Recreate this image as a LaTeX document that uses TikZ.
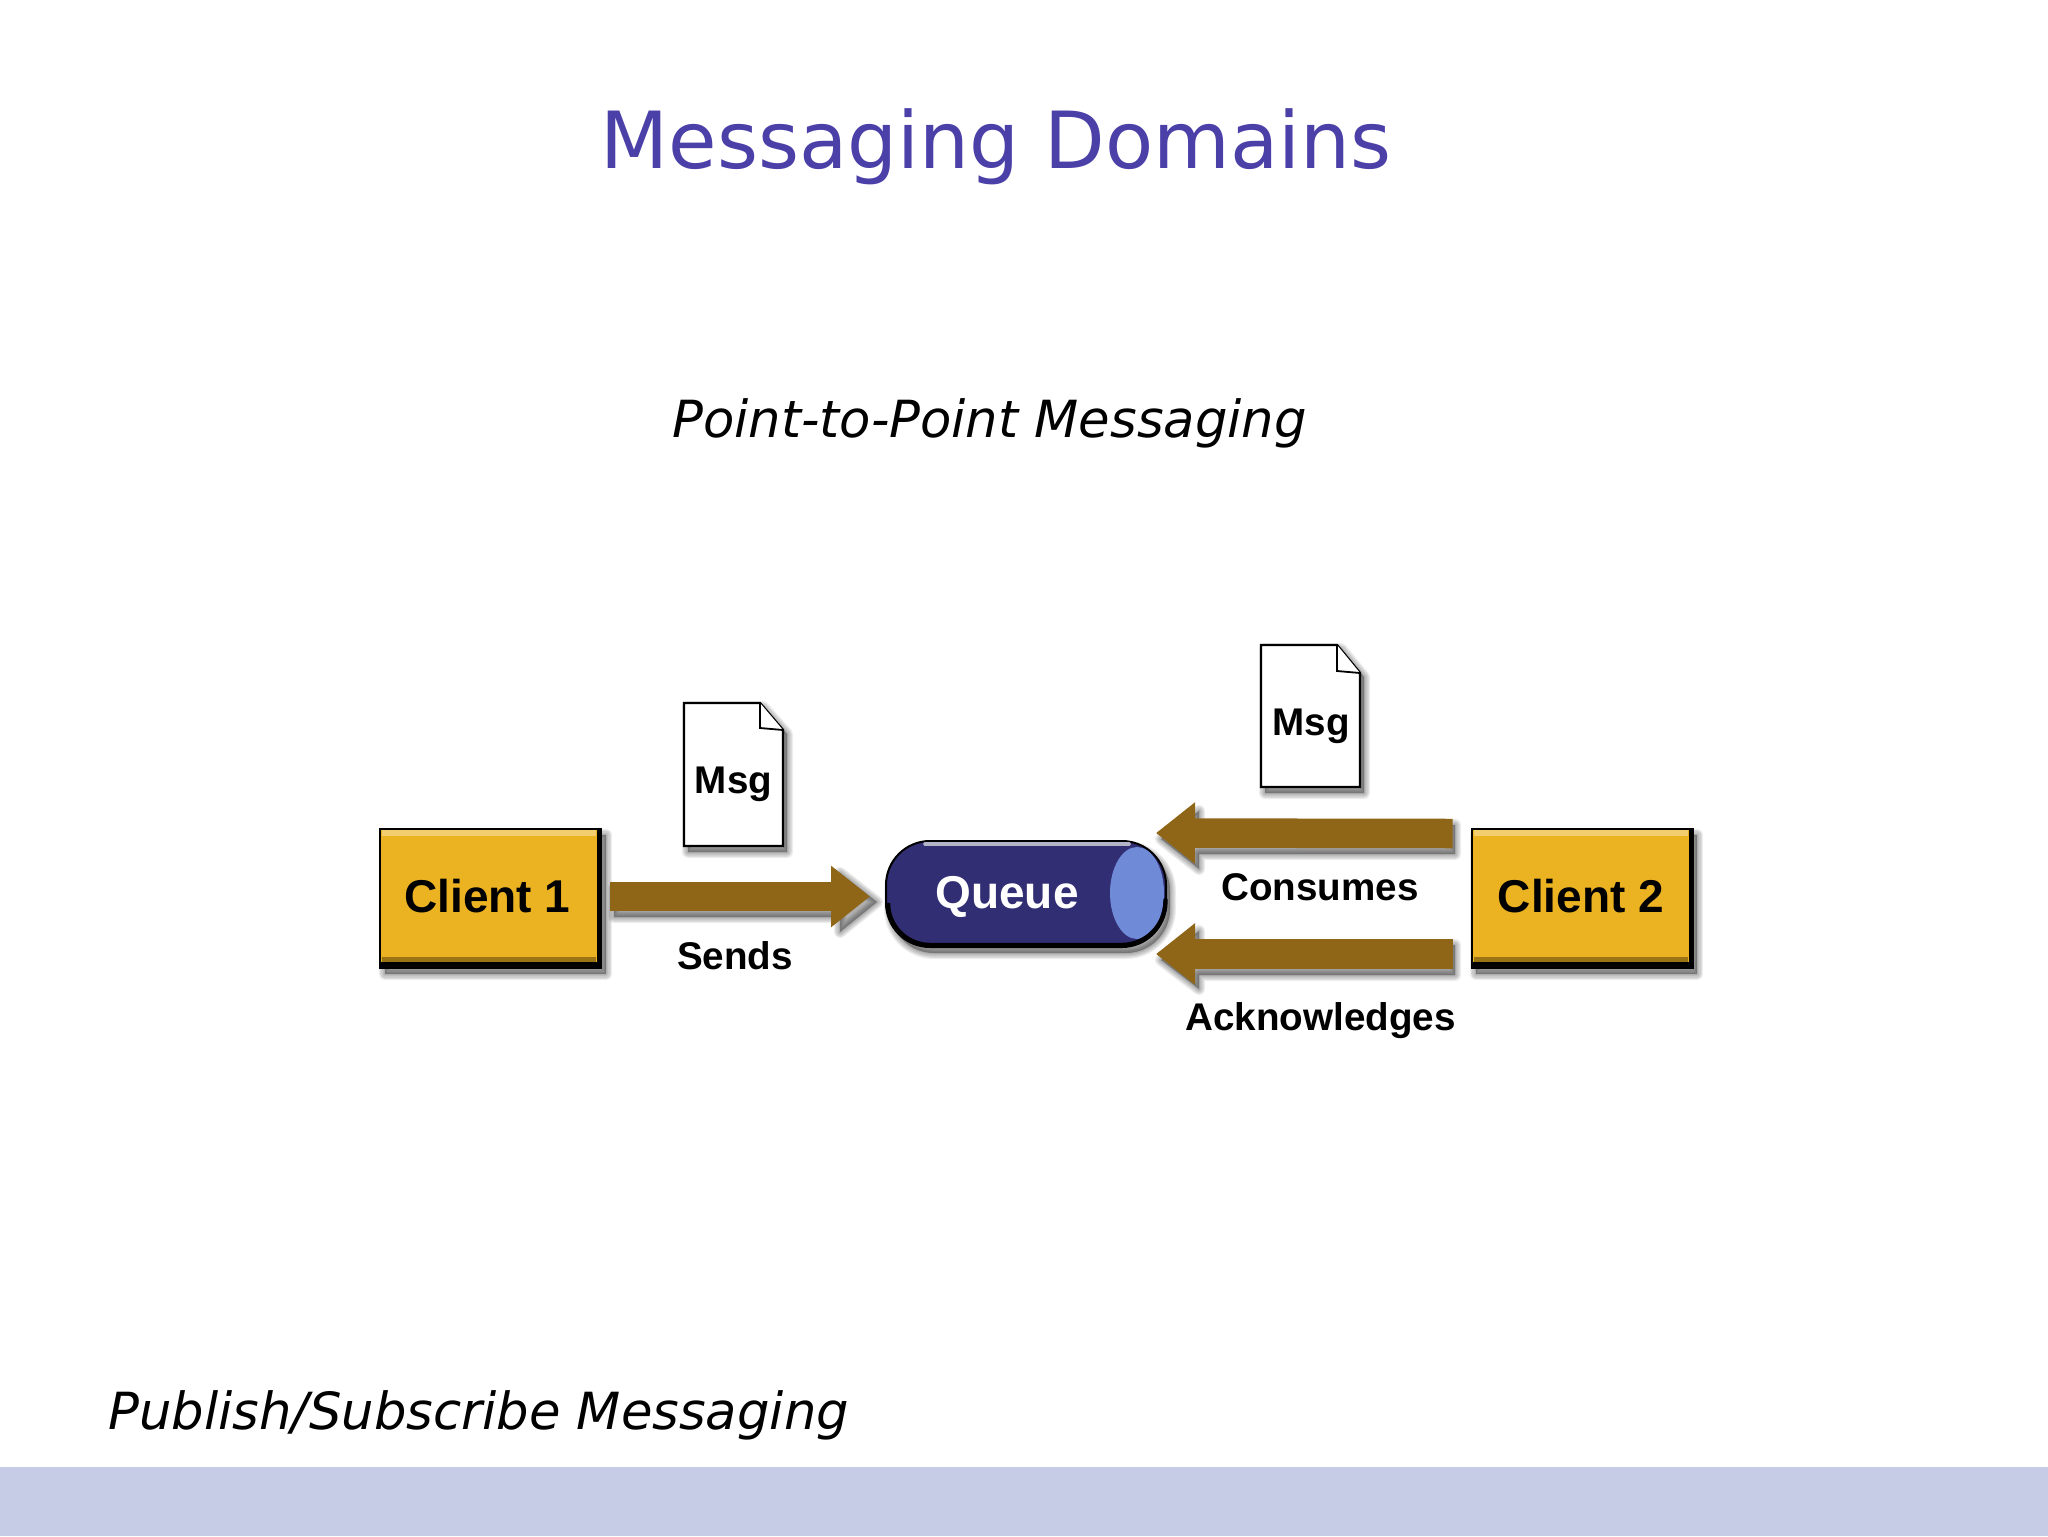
\documentclass[tikz,border=0pt]{standalone}
\usepackage{fontspec}
\usetikzlibrary{arrows.meta,calc}
\setmainfont{DejaVu Sans}
\newfontfamily\diafont{Liberation Sans}[Scale=1]
\definecolor{titleblue}{HTML}{4B3FA8}
\definecolor{bandblue}{HTML}{C7CCE6}
\definecolor{amber}{HTML}{EBB222}
\definecolor{amberlight}{HTML}{F3CE6E}
\definecolor{amberdark}{HTML}{9A7414}
\definecolor{flowbrown}{HTML}{8F6517}
\definecolor{queuebody}{HTML}{322E74}
\definecolor{queuecap}{HTML}{6F8BD8}
\definecolor{queuerim}{HTML}{B4B4C8}
\newcommand\softshadow[1]{\foreach \w in {6,4.8,3.6,2.4,1.2}{\draw[black,fill=black,draw opacity=.07,fill opacity=.07,line width=\w pt,line join=round] #1;}}
\tikzset{
  x=0.5pt,y=-0.5pt,
  titletext/.style={font=\fontsize{39.4}{39.4}\selectfont,text=titleblue,inner sep=0pt,anchor=base},
  subtext/.style={font=\fontsize{25.6}{25.6}\selectfont\itshape,text=black,inner sep=0pt},
  clientbox/.style={draw=black,line width=1pt,fill=amber,minimum width=110.5pt,minimum height=69.5pt,inner sep=0pt,text depth=2.5pt,font=\diafont\bfseries\fontsize{23}{23}\selectfont},
  queuebox/.style={draw=black,line width=1pt,fill=queuebody,rounded corners=22pt,minimum width=140pt,minimum height=53pt,inner sep=0pt,text=white,text height=20pt,text depth=6pt,font=\diafont\bfseries\fontsize{23}{23}\selectfont},
  labeltext/.style={inner sep=0pt,anchor=base,font=\diafont\bfseries\fontsize{19.3}{19.3}\selectfont},
  docshape/.style={draw=black,line width=1.2pt,fill=white,line join=miter},
  flow/.style={draw=flowbrown,line width=14.75pt,-{Triangle[length=19.5pt,width=29.5pt]}},
}
\begin{document}
\begin{tikzpicture}
\useasboundingbox (0,0) rectangle (2048,1536);
\fill[white] (0,0) rectangle (2048,1536);
\fill[bandblue] (0,1467) rectangle (2048,1536);

\node[titletext] (title) at (996,168) {Messaging Domains};
\node[subtext,anchor=base] (ptp) at (989.5,437) {Point-to-Point Messaging};
\node[subtext,anchor=base west] (pubsub) at (108,1429) {Publish/Subscribe Messaging};

% soft shadows
\softshadow{(385,835) rectangle (606,974)}
\softshadow{(1476,835) rectangle (1697,974)}
\softshadow{(890,847) [rounded corners=22pt] rectangle (1170,953)}
\softshadow{(688,707) -- (763,707) -- (787,734) -- (787,852) -- (688,852) -- cycle}
\softshadow{(1265,649) -- (1341,649) -- (1364,677) -- (1364,793) -- (1265,793) -- cycle}
\softshadow{(614,917) -- (840,917) -- (840,932) -- (877,902) -- (840,873) -- (840,888) -- (614,888) -- cycle}
\softshadow{(1455,825) -- (1199,825) -- (1199,811) -- (1161,839) -- (1199,869) -- (1199,854) -- (1455,854) -- cycle}
\softshadow{(1455,945) -- (1199,945) -- (1199,931) -- (1161,960) -- (1199,989) -- (1199,975) -- (1455,975) -- cycle}

% clients
\node[clientbox] (client1) at (490.5,898.5) {Client 1\kern3pt\null};
\node[clientbox] (client2) at (1582,898.5) {Client 2\kern1pt\null};
\foreach \c in {client1,client2}{
  \fill[amberlight] ($(\c.north west)+(3,2)$) rectangle ($(\c.north east)+(-6,8)$);
  \fill[amberdark] ($(\c.south west)+(3,-12)$) rectangle ($(\c.south east)+(-6,-7)$);
  \fill[black] ($(\c.south west)+(0,-7)$) rectangle ($(\c.south east)+(0,0)$);
  \fill[black] ($(\c.north east)+(-5,0)$) rectangle ($(\c.south east)+(0,0)$);
}

% queue
\node[queuebox] (queue) at (1026,894) {Queue\kern19pt\null};
\fill[queuecap] (1137,893) ellipse [x radius=27,y radius=46];
\draw[queuerim,line width=1.8pt,line cap=round] ($(queue.north west)+(40,4)$) -- ($(queue.north east)+(-38,4)$);
\draw[black,line width=2.2pt,line cap=round,rounded corners=21pt] ($(queue.south west)+(3,-44)$) -- ($(queue.south west)+(3,-3)$) -- ($(queue.south east)+(-3,-3)$) -- ($(queue.south east)+(-1.5,-48)$);

% documents
\draw[docshape] (684,703) -- (760,703) -- (783,730) -- (783,846) -- (684,846) -- cycle;
\draw[docshape,fill=white,line width=.9pt] (760,703) -- (760,728) -- (783,730);
\node[labeltext] (msg1) at (733.5,793) {Msg};
\draw[docshape] (1261,645) -- (1337,645) -- (1360,673) -- (1360,787) -- (1261,787) -- cycle;
\draw[docshape,fill=white,line width=.9pt] (1337,645) -- (1337,671) -- (1360,673);
\node[labeltext] (msg2) at (1311,735) {Msg};

% flows
\draw[flow] ($(client1.east)+(8,-2)$) -- ($(queue.west)+(-15,2.5)$);
\draw[flow] ($(client2.west)+(-18,-65)$) -- ($(queue.east)+(-11,-61)$);
\draw[flow] ($(client2.west)+(-18,55.5)$) -- ($(queue.east)+(-11,60)$);

% labels
\node[labeltext] (sends) at (735,969) {Sends};
\node[labeltext] (consumes) at (1320,900) {Consumes};
\node[labeltext] (acks) at (1320.5,1030) {Acknowledges};
\end{tikzpicture}
\end{document}
